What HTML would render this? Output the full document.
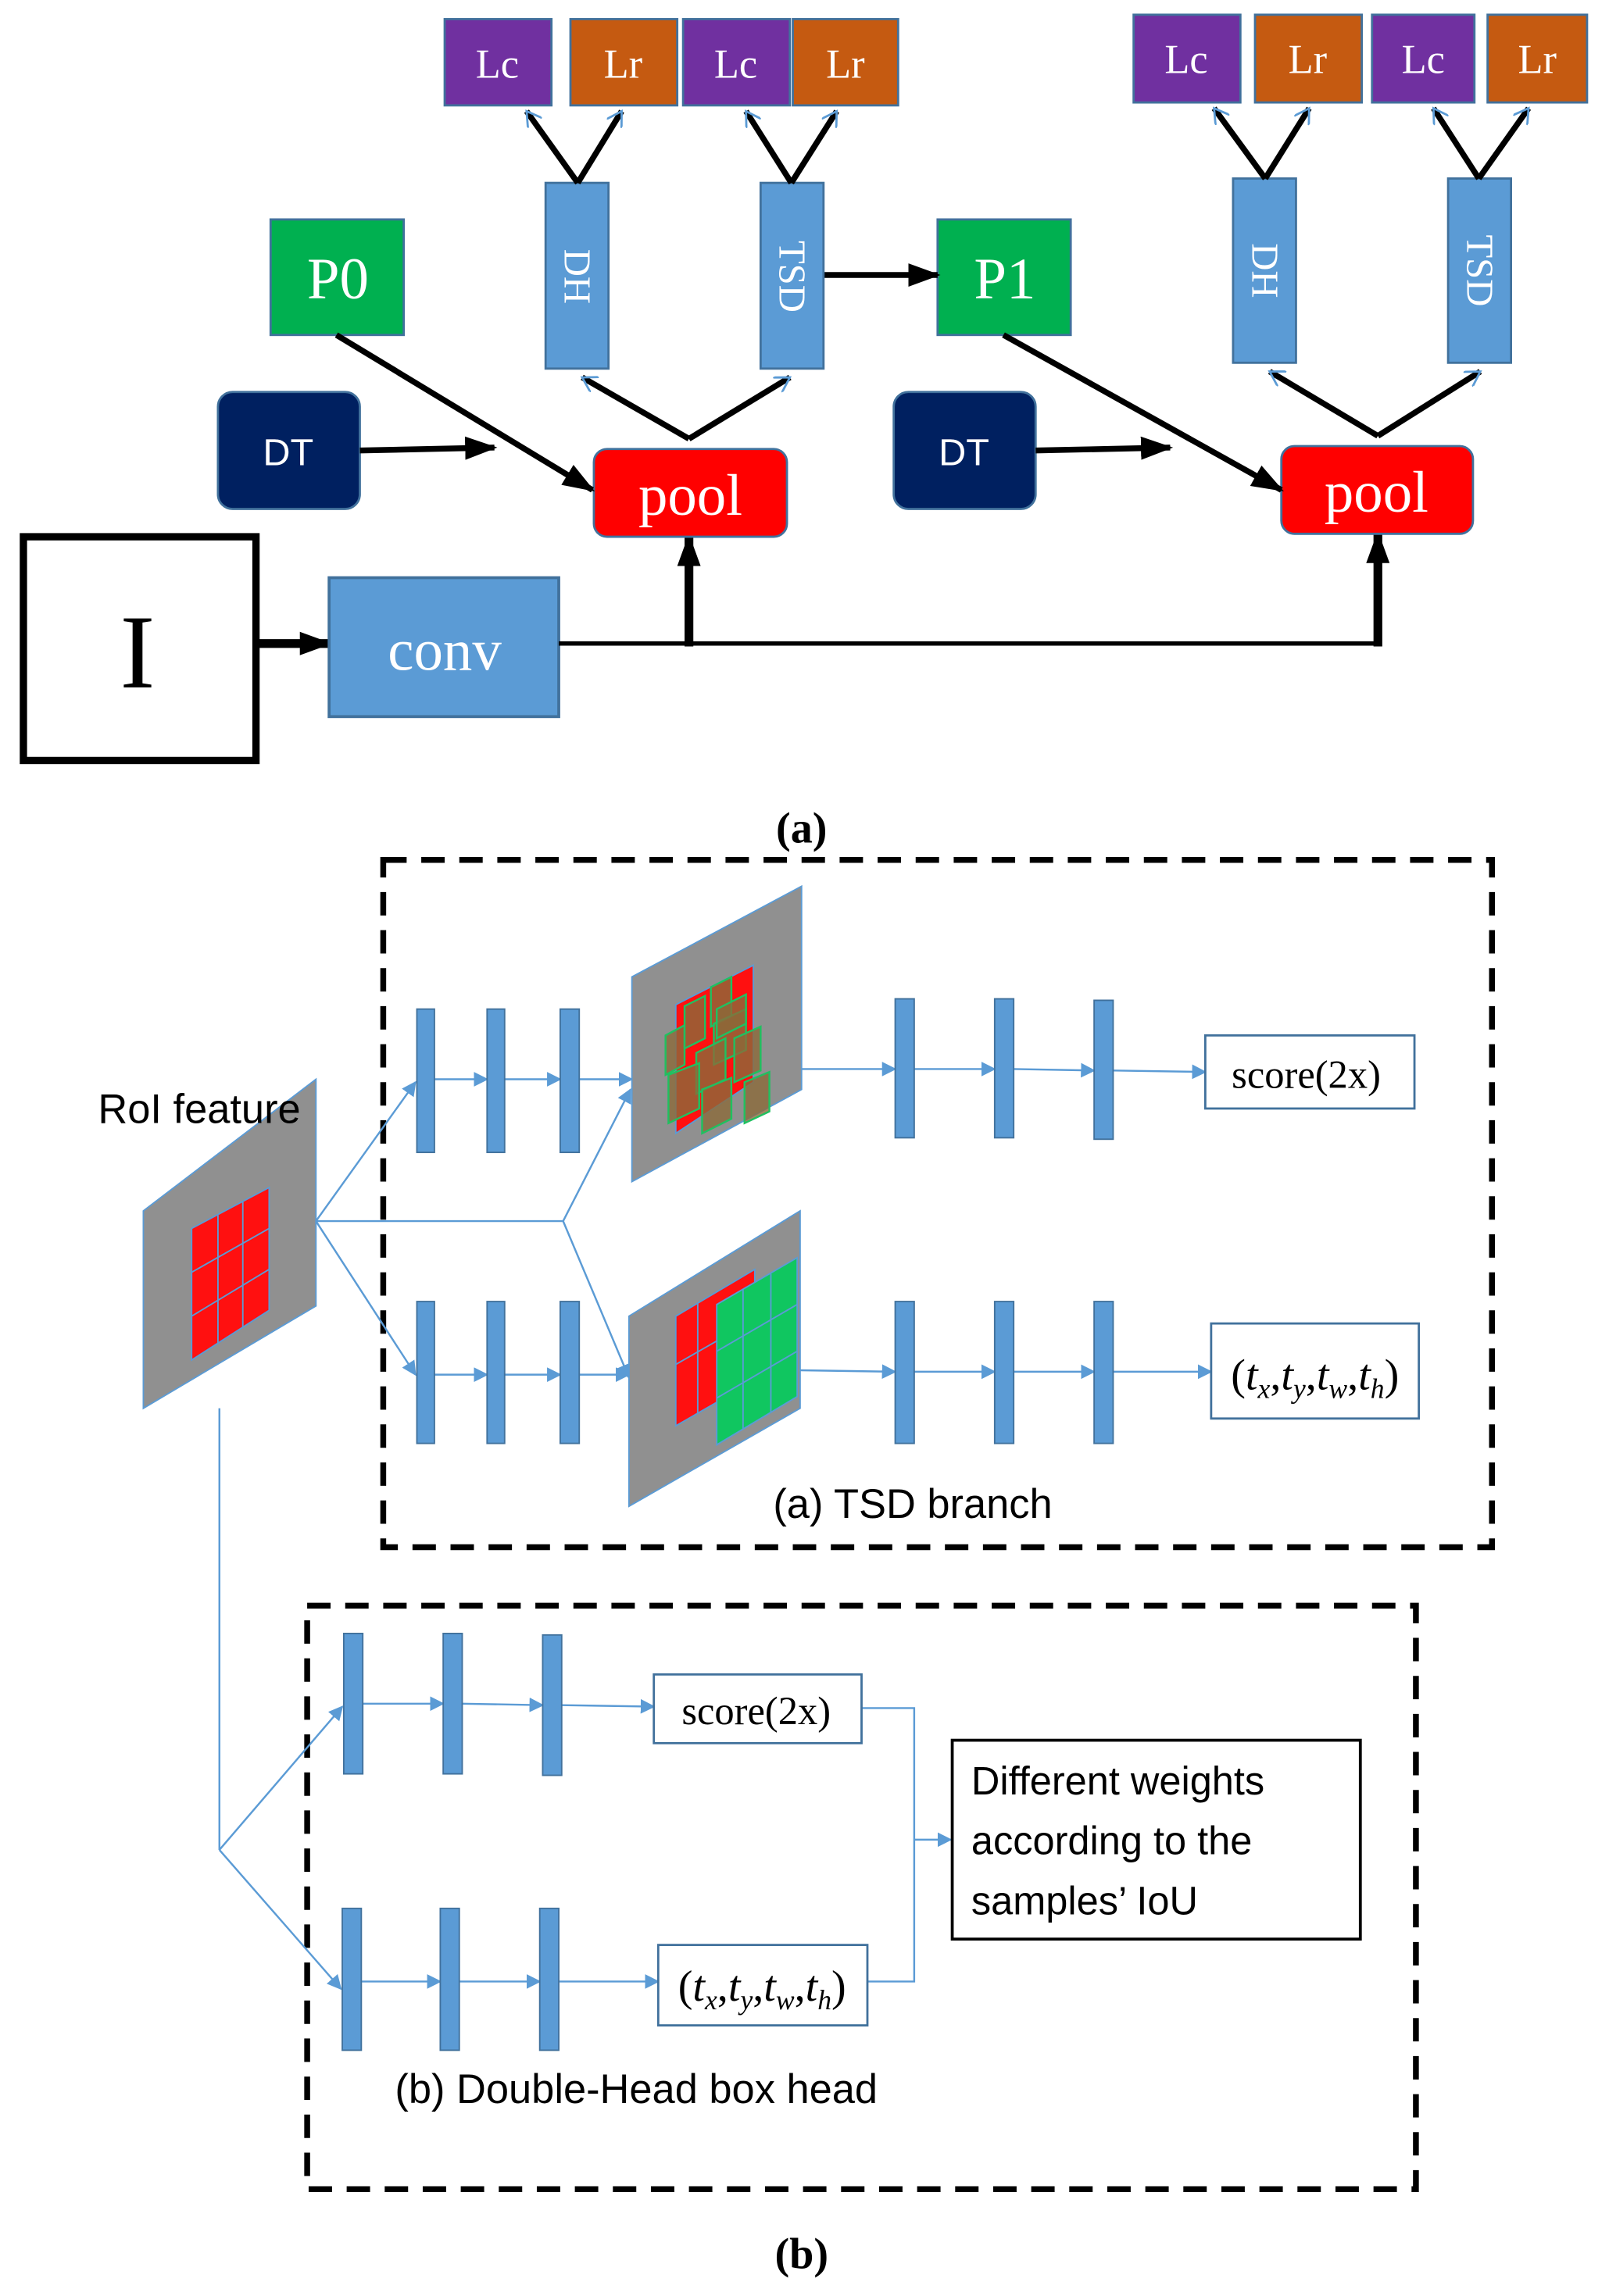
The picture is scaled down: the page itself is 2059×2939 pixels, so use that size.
<!DOCTYPE html>
<html><head><meta charset="utf-8"><style>html,body{margin:0;padding:0;background:#fff}svg{display:block}</style></head>
<body>
<svg width="2059" height="2939" viewBox="0 0 1100 1570" xmlns="http://www.w3.org/2000/svg">
<defs>
<marker id="bk" viewBox="0 0 22 22" markerWidth="22" markerHeight="22" refX="20" refY="11" orient="auto" markerUnits="userSpaceOnUse"><path d="M0,3 L22,11 L0,19 z" fill="#000"/></marker>
<marker id="bl" markerWidth="10" markerHeight="10" refX="9" refY="5" orient="auto" markerUnits="userSpaceOnUse"><path d="M0,0 L10,5 L0,10 z" fill="#5b9bd5"/></marker>
<marker id="bv" viewBox="0 0 12 12" markerWidth="12" markerHeight="12" refX="10" refY="6" orient="auto" markerUnits="userSpaceOnUse"><path d="M0,0 L10,6 L0,12" fill="none" stroke="#5b9bd5" stroke-width="1.5"/></marker>
</defs>
<g font-family="Liberation Serif, serif">
<rect x="16" y="367" width="159" height="153" fill="#fff" stroke="#000" stroke-width="5"/>
<text x="94" y="470" font-size="72" text-anchor="middle">I</text>
<line x1="177" y1="440" x2="225" y2="440" stroke="#000" stroke-width="6" marker-end="url(#bk)"/>
<rect x="225" y="395" width="157" height="95" fill="#5b9bd5" stroke="#41719c" stroke-width="2"/>
<text x="304" y="458" font-size="40" fill="#fff" text-anchor="middle">conv</text>
<polyline points="382,440 942,440" stroke="#000" stroke-width="3" fill="none"/>
<line x1="471" y1="442" x2="471" y2="367" stroke="#000" stroke-width="6" marker-end="url(#bk)"/>
<line x1="942" y1="442" x2="942" y2="365" stroke="#000" stroke-width="6" marker-end="url(#bk)"/>
<rect x="406" y="307" width="132" height="60" rx="9" fill="#ff0000" stroke="#41719c" stroke-width="1.5"/>
<text x="472" y="352" font-size="40" fill="#fff" text-anchor="middle">pool</text>
<rect x="876" y="305" width="131" height="60" rx="9" fill="#ff0000" stroke="#41719c" stroke-width="1.5"/>
<text x="941" y="350" font-size="40" fill="#fff" text-anchor="middle">pool</text>
<rect x="149" y="268" width="97" height="80" rx="10" fill="#002060" stroke="#41719c" stroke-width="1.5"/>
<text x="197" y="318" font-size="26" fill="#fff" text-anchor="middle" font-family="Liberation Sans, sans-serif">DT</text>
<line x1="246" y1="308" x2="338" y2="306" stroke="#000" stroke-width="4" marker-end="url(#bk)"/>
<rect x="611" y="268" width="97" height="80" rx="10" fill="#002060" stroke="#41719c" stroke-width="1.5"/>
<text x="659" y="318" font-size="26" fill="#fff" text-anchor="middle" font-family="Liberation Sans, sans-serif">DT</text>
<line x1="708" y1="308" x2="800" y2="306" stroke="#000" stroke-width="4" marker-end="url(#bk)"/>
<rect x="185" y="150" width="91" height="79" fill="#00b050" stroke="#41719c" stroke-width="1.5"/>
<text x="231" y="204" font-size="40" fill="#fff" text-anchor="middle">P0</text>
<line x1="230" y1="229" x2="405" y2="335" stroke="#000" stroke-width="4" marker-end="url(#bk)"/>
<rect x="641" y="150" width="91" height="79" fill="#00b050" stroke="#41719c" stroke-width="1.5"/>
<text x="687" y="204" font-size="40" fill="#fff" text-anchor="middle">P1</text>
<line x1="686" y1="229" x2="876" y2="335" stroke="#000" stroke-width="4" marker-end="url(#bk)"/>
<line x1="563" y1="188" x2="641" y2="188" stroke="#000" stroke-width="4" marker-end="url(#bk)"/>
<g fill="#5b9bd5" stroke="#41719c" stroke-width="1.5">
<rect x="373" y="125" width="43" height="127"/><rect x="520" y="125" width="43" height="127"/>
<rect x="843" y="122" width="43" height="126"/><rect x="990" y="122" width="43" height="126"/>
</g>
<g font-size="26" fill="#fff" text-anchor="middle">
<text transform="translate(386,189) rotate(90)">DH</text>
<text transform="translate(533,189) rotate(90)">TSD</text>
<text transform="translate(856,185) rotate(90)">DH</text>
<text transform="translate(1003,185) rotate(90)">TSD</text>
</g>
<g stroke="#000" stroke-width="4" fill="none" marker-end="url(#bv)">
<line x1="471" y1="300" x2="398" y2="258"/><line x1="471" y1="300" x2="540" y2="258"/>
<line x1="942" y1="298" x2="868" y2="254"/><line x1="942" y1="298" x2="1012" y2="254"/>
<line x1="395" y1="125" x2="360" y2="76"/><line x1="395" y1="125" x2="425" y2="76"/>
<line x1="541" y1="125" x2="510" y2="76"/><line x1="541" y1="125" x2="572" y2="76"/>
<line x1="865" y1="122" x2="830" y2="74"/><line x1="865" y1="122" x2="895" y2="74"/>
<line x1="1011" y1="122" x2="980" y2="74"/><line x1="1011" y1="122" x2="1045" y2="74"/>
</g>
<g stroke="#41719c" stroke-width="1.5">
<rect x="304" y="13" width="73" height="59" fill="#7030a0"/><rect x="390" y="13" width="73" height="59" fill="#c55a11"/>
<rect x="467" y="13" width="73" height="59" fill="#7030a0"/><rect x="542" y="13" width="72" height="59" fill="#c55a11"/>
<rect x="775" y="10" width="73" height="60" fill="#7030a0"/><rect x="858" y="10" width="73" height="60" fill="#c55a11"/>
<rect x="938" y="10" width="70" height="60" fill="#7030a0"/><rect x="1017" y="10" width="68" height="60" fill="#c55a11"/>
</g>
<g font-size="28" fill="#fff" text-anchor="middle">
<text x="340" y="53">Lc</text><text x="426" y="53">Lr</text><text x="503" y="53">Lc</text><text x="578" y="53">Lr</text>
<text x="811" y="50">Lc</text><text x="894" y="50">Lr</text><text x="973" y="50">Lc</text><text x="1051" y="50">Lr</text>
</g>
<text x="548" y="576" font-size="30" font-weight="bold" text-anchor="middle">(a)</text>

<rect x="262" y="588" width="758" height="470" fill="none" stroke="#000" stroke-width="4" stroke-dasharray="16,10"/>
<rect x="210" y="1098" width="758" height="399" fill="none" stroke="#000" stroke-width="4" stroke-dasharray="16,10"/>
<polygon points="98,828 216,738 216,893 98,963" fill="#909090" stroke="#5b9bd5" stroke-width="1"/>
<polygon points="131,840 184,812 184,896 131,930" fill="#ff1010" stroke="#5b9bd5"/>
<g stroke="#5b9bd5" stroke-width="1">
<line x1="149" y1="831" x2="149" y2="919"/><line x1="166" y1="821" x2="166" y2="908"/>
<line x1="131" y1="870" x2="184" y2="840"/><line x1="131" y1="900" x2="184" y2="868"/>
</g>
<text x="67" y="768" font-size="28" font-family="Liberation Sans, sans-serif">RoI feature</text>
<g stroke="#5b9bd5" stroke-width="1.3" fill="none">
<line x1="216" y1="835" x2="284" y2="740" marker-end="url(#bl)"/>
<line x1="216" y1="835" x2="284" y2="940" marker-end="url(#bl)"/>
<line x1="216" y1="835" x2="385" y2="835"/>
<line x1="385" y1="835" x2="431" y2="745" marker-end="url(#bl)"/>
<line x1="385" y1="835" x2="430" y2="942" marker-end="url(#bl)"/>
<line x1="297" y1="738" x2="333" y2="738" marker-end="url(#bl)"/>
<line x1="345" y1="738" x2="383" y2="738" marker-end="url(#bl)"/>
<line x1="396" y1="738" x2="432" y2="738" marker-end="url(#bl)"/>
<line x1="297" y1="940" x2="333" y2="940" marker-end="url(#bl)"/>
<line x1="345" y1="940" x2="383" y2="940" marker-end="url(#bl)"/>
<line x1="396" y1="940" x2="430" y2="940" marker-end="url(#bl)"/>
<line x1="548" y1="731" x2="612" y2="731" marker-end="url(#bl)"/>
<line x1="625" y1="731" x2="680" y2="731" marker-end="url(#bl)"/>
<line x1="693" y1="731" x2="748" y2="732" marker-end="url(#bl)"/>
<line x1="761" y1="732" x2="824" y2="733" marker-end="url(#bl)"/>
<line x1="547" y1="937" x2="612" y2="938" marker-end="url(#bl)"/>
<line x1="625" y1="938" x2="680" y2="938" marker-end="url(#bl)"/>
<line x1="693" y1="938" x2="748" y2="938" marker-end="url(#bl)"/>
<line x1="761" y1="938" x2="828" y2="938" marker-end="url(#bl)"/>
<polyline points="150,963 150,1265"/>
<line x1="150" y1="1265" x2="234" y2="1167" marker-end="url(#bl)"/>
<line x1="150" y1="1265" x2="233" y2="1360" marker-end="url(#bl)"/>
<line x1="248" y1="1165" x2="303" y2="1165" marker-end="url(#bl)"/>
<line x1="316" y1="1165" x2="371" y2="1166" marker-end="url(#bl)"/>
<line x1="384" y1="1166" x2="447" y2="1167" marker-end="url(#bl)"/>
<line x1="247" y1="1355" x2="301" y2="1355" marker-end="url(#bl)"/>
<line x1="314" y1="1355" x2="369" y2="1355" marker-end="url(#bl)"/>
<line x1="382" y1="1355" x2="450" y2="1355" marker-end="url(#bl)"/>
<polyline points="589,1168 625,1168 625,1355 593,1355"/>
<line x1="625" y1="1258" x2="650" y2="1258" marker-end="url(#bl)"/>
</g>
<g fill="#5b9bd5" stroke="#41719c" stroke-width="1">
<rect x="285" y="690" width="12" height="98"/><rect x="333" y="690" width="12" height="98"/><rect x="383" y="690" width="13" height="98"/>
<rect x="285" y="890" width="12" height="97"/><rect x="333" y="890" width="12" height="97"/><rect x="383" y="890" width="13" height="97"/>
<rect x="612" y="683" width="13" height="95"/><rect x="680" y="683" width="13" height="95"/><rect x="748" y="684" width="13" height="95"/>
<rect x="612" y="890" width="13" height="97"/><rect x="680" y="890" width="13" height="97"/><rect x="748" y="890" width="13" height="97"/>
<rect x="235" y="1117" width="13" height="96"/><rect x="303" y="1117" width="13" height="96"/><rect x="371" y="1118" width="13" height="96"/>
<rect x="234" y="1305" width="13" height="97"/><rect x="301" y="1305" width="13" height="97"/><rect x="369" y="1305" width="13" height="97"/>
</g>
<polygon points="432,668 548,606 548,745 432,808" fill="#909090" stroke="#5b9bd5"/>
<polygon points="462,687 515,660 515,740 462,775" fill="#ff1010" stroke="#5b9bd5"/>
<g fill="#8b6a3a" fill-opacity="0.8" stroke="#20c060" stroke-width="1.3">
<polygon points="455,708 468,701 468,728 455,735"/>
<polygon points="468,688 482,681 482,710 468,717"/>
<polygon points="486,675 500,668 500,695 486,702"/>
<polygon points="488,700 510,690 510,718 488,728"/>
<polygon points="476,720 496,710 496,738 476,748"/>
<polygon points="457,735 478,727 478,758 457,768"/>
<polygon points="480,745 500,737 500,765 480,775"/>
<polygon points="502,710 520,702 520,732 502,740"/>
<polygon points="509,740 526,733 526,760 509,768"/>
<polygon points="490,690 510,680 510,700 490,710"/>
</g>
<polygon points="430,900 547,828 547,963 430,1030" fill="#909090" stroke="#5b9bd5"/>
<polygon points="462,900 516,868 516,944 462,975" fill="#ff1010" stroke="#5b9bd5"/>
<polygon points="490,892 545,860 545,955 490,988" fill="#10c660" stroke="#5b9bd5"/>
<g stroke="#5b9bd5" stroke-width="1">
<line x1="508" y1="882" x2="508" y2="977"/><line x1="527" y1="871" x2="527" y2="966"/>
<line x1="490" y1="924" x2="545" y2="892"/><line x1="490" y1="956" x2="545" y2="924"/>
<line x1="462" y1="933" x2="490" y2="917"/><line x1="477" y1="891" x2="477" y2="967"/>
</g>
<rect x="824" y="708" width="143" height="50" fill="#fff" stroke="#41719c" stroke-width="1.5"/>
<text x="893" y="744" font-size="27" text-anchor="middle">score(2x)</text>
<rect x="828" y="905" width="142" height="65" fill="#fff" stroke="#41719c" stroke-width="1.5"/>
<text x="899" y="950" font-size="30" text-anchor="middle">(<tspan font-style="italic">t</tspan><tspan font-style="italic" font-size="19" dy="6">x</tspan><tspan dy="-6">,</tspan><tspan font-style="italic">t</tspan><tspan font-style="italic" font-size="19" dy="6">y</tspan><tspan dy="-6">,</tspan><tspan font-style="italic">t</tspan><tspan font-style="italic" font-size="19" dy="6">w</tspan><tspan dy="-6">,</tspan><tspan font-style="italic">t</tspan><tspan font-style="italic" font-size="19" dy="6">h</tspan><tspan dy="-6">)</tspan></text>
<rect x="447" y="1145" width="142" height="47" fill="#fff" stroke="#41719c" stroke-width="1.5"/>
<text x="517" y="1179" font-size="27" text-anchor="middle">score(2x)</text>
<rect x="450" y="1330" width="143" height="55" fill="#fff" stroke="#41719c" stroke-width="1.5"/>
<text x="521" y="1368" font-size="30" text-anchor="middle">(<tspan font-style="italic">t</tspan><tspan font-style="italic" font-size="19" dy="6">x</tspan><tspan dy="-6">,</tspan><tspan font-style="italic">t</tspan><tspan font-style="italic" font-size="19" dy="6">y</tspan><tspan dy="-6">,</tspan><tspan font-style="italic">t</tspan><tspan font-style="italic" font-size="19" dy="6">w</tspan><tspan dy="-6">,</tspan><tspan font-style="italic">t</tspan><tspan font-style="italic" font-size="19" dy="6">h</tspan><tspan dy="-6">)</tspan></text>
<text x="624" y="1038" font-size="28" text-anchor="middle" font-family="Liberation Sans, sans-serif">(a) TSD branch</text>
<rect x="651" y="1190" width="279" height="136" fill="#fff" stroke="#000" stroke-width="2"/>
<g font-size="27" font-family="Liberation Sans, sans-serif">
<text x="664" y="1227">Different weights</text>
<text x="664" y="1268">according to the</text>
<text x="664" y="1309">samples’ IoU</text>
</g>
<text x="435" y="1438" font-size="28" text-anchor="middle" font-family="Liberation Sans, sans-serif">(b) Double-Head box head</text>
<text x="548" y="1551" font-size="30" font-weight="bold" text-anchor="middle">(b)</text>
</g>
</svg>
</body></html>
